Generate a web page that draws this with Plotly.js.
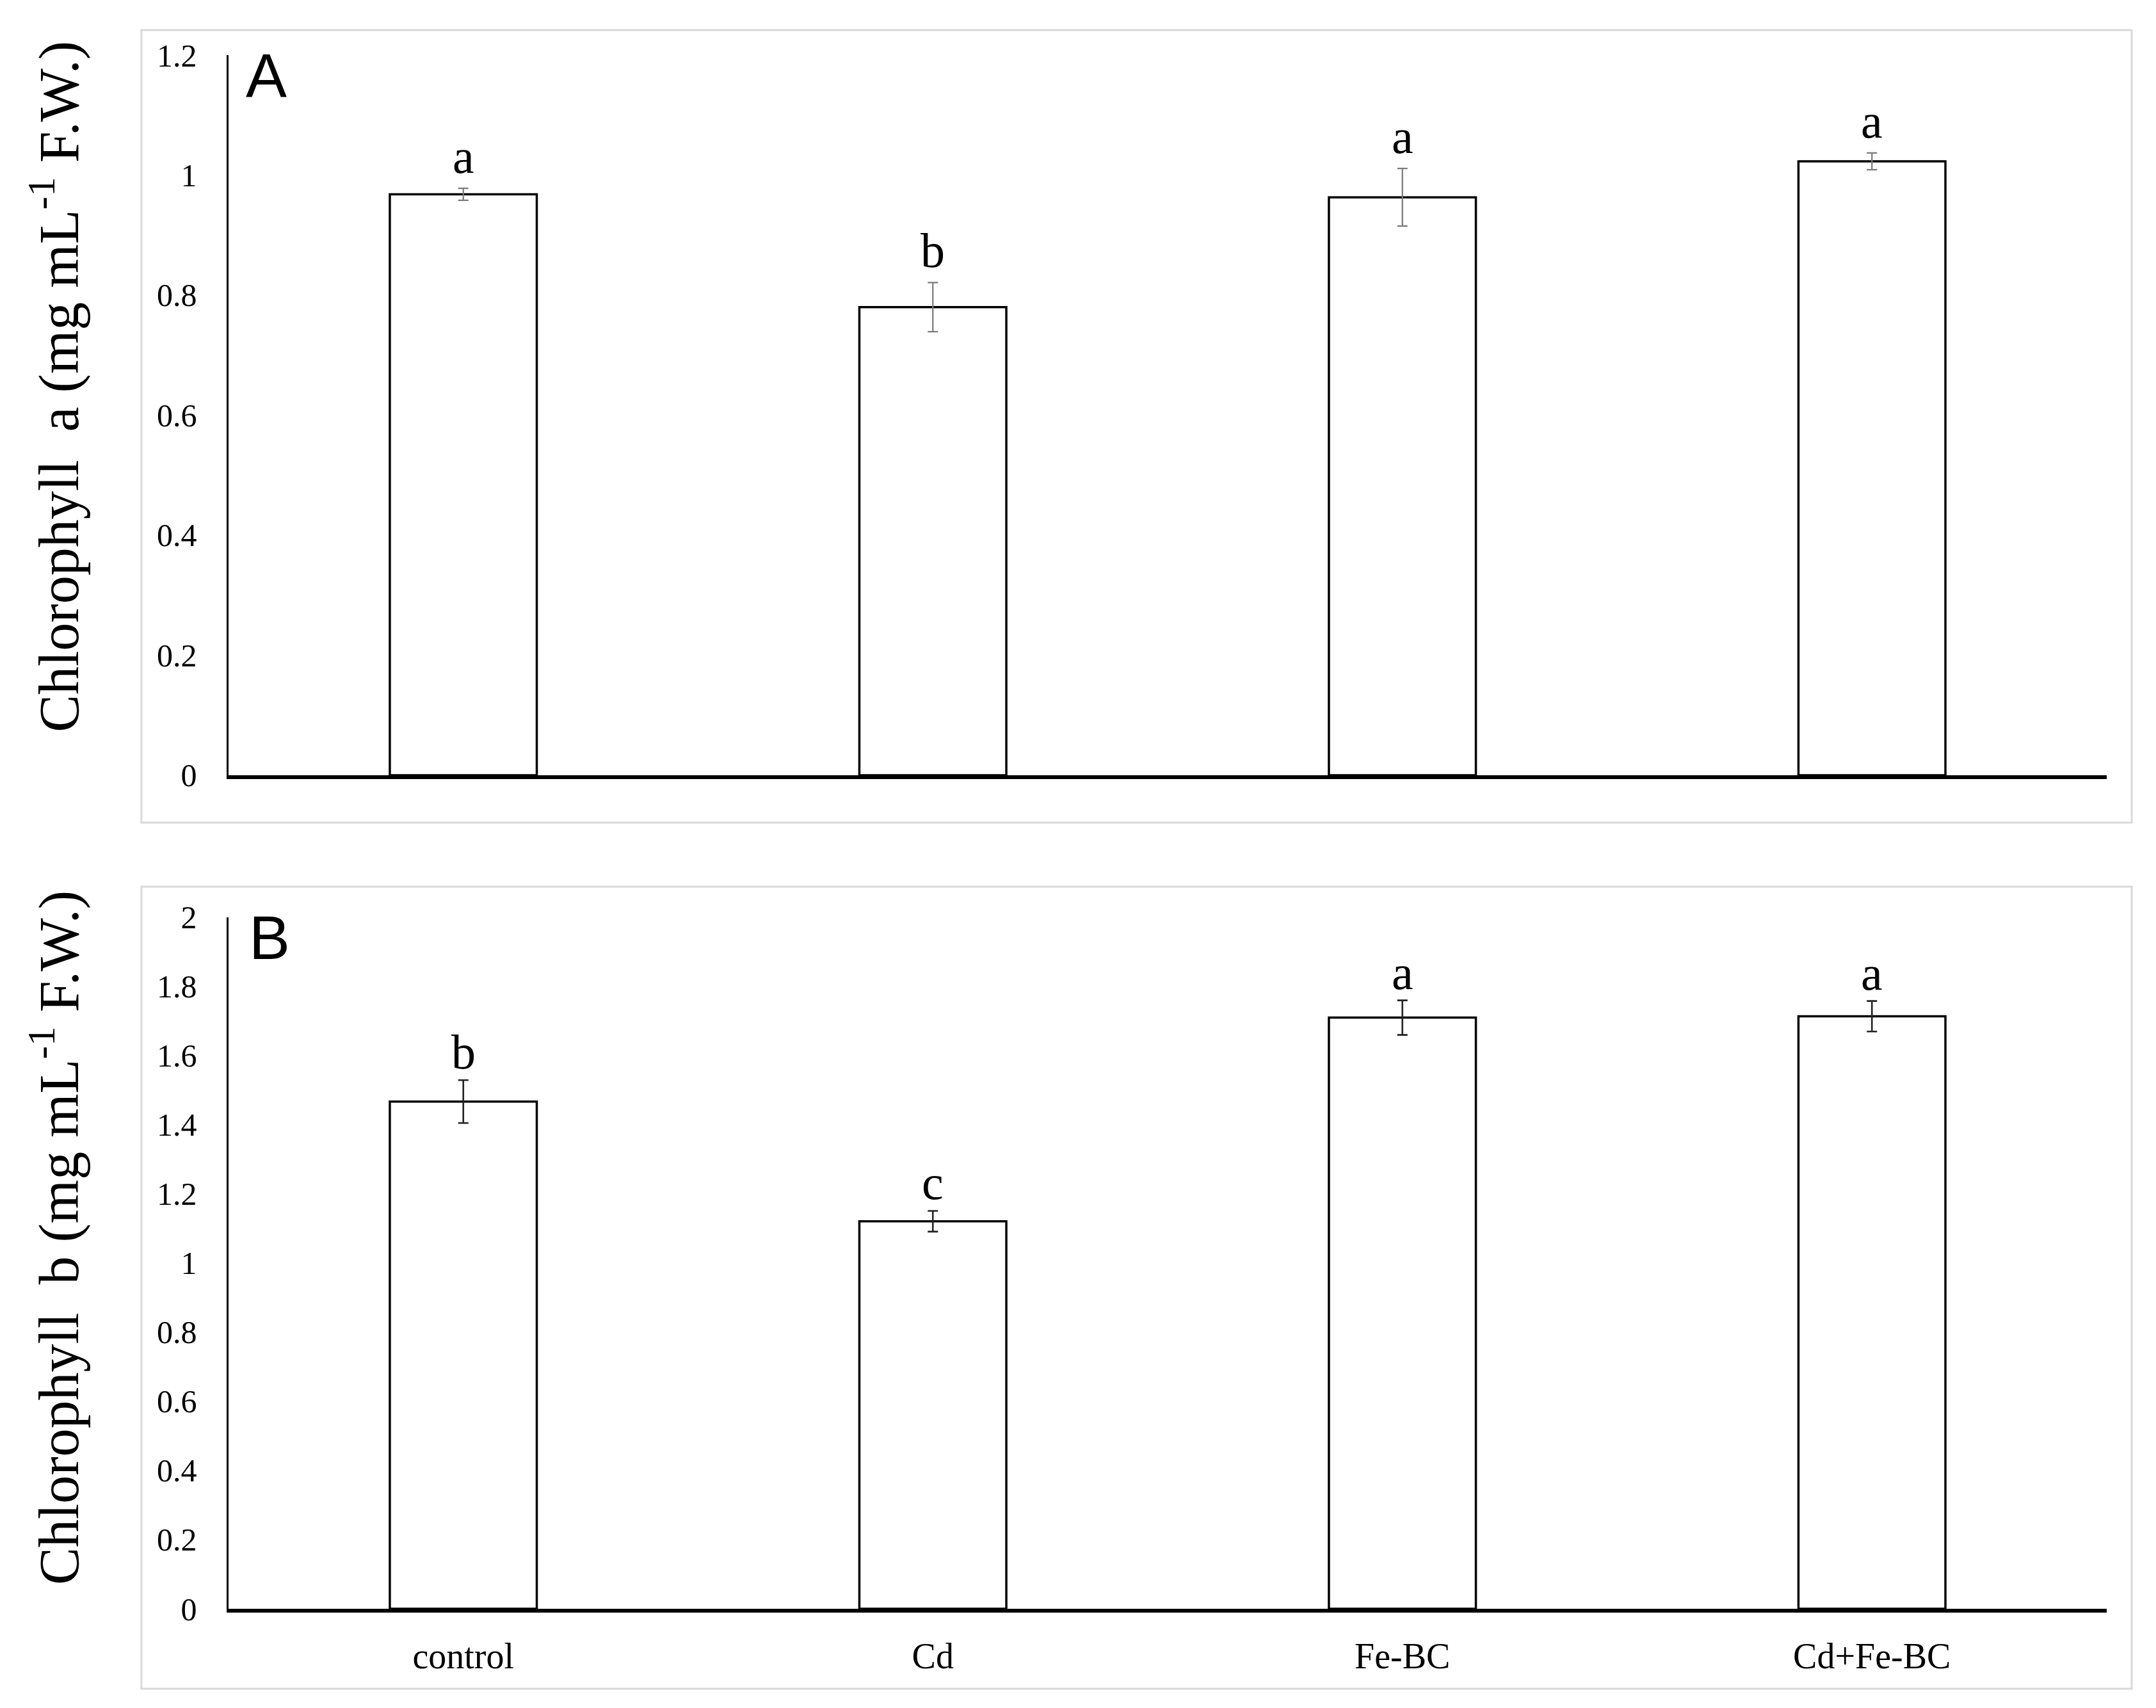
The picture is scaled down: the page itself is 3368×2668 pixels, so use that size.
<!DOCTYPE html>
<html>
<head>
<meta charset="utf-8">
<script src="https://cdn.plot.ly/plotly-3.0.1.min.js"></script>
<style>html,body{margin:0;padding:0;background:#fff;}</style>
</head>
<body>
<div id="chart" style="width:3368px;height:2668px;"></div>
<script>
// ---- data ----
const treatments = ["control", "Cd", "Fe-BC", "Cd+Fe-BC"];
const chlA = [0.968, 0.780, 0.963, 1.023];
const chlAErr = [0.010, 0.041, 0.048, 0.014];
const chlALetters = ["a", "b", "a", "a"];
const chlB = [1.467, 1.121, 1.710, 1.714];
const chlBErr = [0.062, 0.030, 0.050, 0.044];
const chlBLetters = ["b", "c", "a", "a"];
const panelLabels = ["A", "B"];
const yTitleA = "Chlorophyll  a (mg mL<sup>-1</sup> F.W.)";
const yTitleB = "Chlorophyll  b (mg mL<sup>-1</sup> F.W.)";

const serif = "Liberation Serif, Times New Roman, serif";

const traceA = {
  type: "bar", x: treatments, y: chlA, xaxis: "x", yaxis: "y",
  marker: {color: "#ffffff", line: {color: "#000000", width: 3.5}},
  error_y: {type: "data", array: chlAErr, visible: true, color: "#7a7a7a", thickness: 2.2, width: 8},
  showlegend: false, hoverinfo: "x+y"
};
const traceB = {
  type: "bar", x: treatments, y: chlB, xaxis: "x2", yaxis: "y2",
  marker: {color: "#ffffff", line: {color: "#000000", width: 3.5}},
  error_y: {type: "data", array: chlBErr, visible: true, color: "#222222", thickness: 2.6, width: 8},
  showlegend: false, hoverinfo: "x+y"
};

const annotations = [];
treatments.forEach((t, i) => {
  annotations.push({xref: "x", yref: "y", x: t, y: chlA[i] + chlAErr[i], text: chlALetters[i],
    showarrow: false, yanchor: "bottom", yshift: 6, font: {family: serif, size: 76, color: "#000"}});
  annotations.push({xref: "x2", yref: "y2", x: t, y: chlB[i] + chlBErr[i], text: chlBLetters[i],
    showarrow: false, yanchor: "bottom", yshift: 0, font: {family: serif, size: 76, color: "#000"}});
});
annotations.push({xref: "paper", yref: "paper", x: 0.0085, y: 1.0099, xanchor: "left", yanchor: "top",
  text: panelLabels[0], showarrow: false, font: {family: "Liberation Sans, Arial, sans-serif", size: 96, color: "#000"}});
annotations.push({xref: "paper", yref: "paper", x: 0.0102, y: 0.4549, xanchor: "left", yanchor: "top",
  text: panelLabels[1], showarrow: false, font: {family: "Liberation Sans, Arial, sans-serif", size: 96, color: "#000"}});
// y-axis titles, placed as rotated text beside each axis
annotations.push({xref: "paper", yref: "paper", x: -0.0924, y: 0.7866, xanchor: "center", yanchor: "middle",
  textangle: -90, text: yTitleA, showarrow: false, font: {family: serif, size: 88, color: "#000"}});
annotations.push({xref: "paper", yref: "paper", x: -0.0924, y: 0.2390, xanchor: "center", yanchor: "middle",
  textangle: -90, text: yTitleB, showarrow: false, font: {family: serif, size: 88, color: "#000"}});

const frameStyle = {color: "#d9d9d9", width: 3};
const shapes = [
  {type: "rect", xref: "paper", yref: "paper", x0: -0.0464, x1: 1.0133, y0: 0.506, y1: 1.0161, line: frameStyle, fillcolor: "rgba(0,0,0,0)", layer: "below"},
  {type: "rect", xref: "paper", yref: "paper", x0: -0.0464, x1: 1.0133, y0: -0.0515, y1: 0.4648, line: frameStyle, fillcolor: "rgba(0,0,0,0)", layer: "below"}
];

const yCommon = {
  showgrid: false, zeroline: false, showline: true, linecolor: "#000", linewidth: 3.5,
  ticks: "", dtick: 0.2, tick0: 0, ticklabelstandoff: 36,
  tickfont: {family: serif, size: 50, color: "#000"}
};

const layout = {
  width: 3368, height: 2668,
  margin: {l: 357, r: 77, t: 86, b: 155},
  paper_bgcolor: "#ffffff", plot_bgcolor: "#ffffff",
  font: {family: serif, color: "#000"},
  bargap: 0.687,
  showlegend: false,
  xaxis: {domain: [0, 1], anchor: "y", showline: true, linecolor: "#000", linewidth: 6,
    showticklabels: false, ticks: "", showgrid: false, zeroline: false},
  yaxis: Object.assign({}, yCommon, {domain: [0.5365, 1], anchor: "x", range: [0, 1.2]}),
  xaxis2: {domain: [0, 1], anchor: "y2", showline: true, linecolor: "#000", linewidth: 6,
    ticks: "", showgrid: false, zeroline: false, ticklabelstandoff: 20,
    tickfont: {family: serif, size: 56, color: "#000"}},
  yaxis2: Object.assign({}, yCommon, {domain: [0, 0.445], anchor: "x2", range: [0, 2]}),
  annotations: annotations,
  shapes: shapes
};

Plotly.newPlot("chart", [traceA, traceB], layout, {displayModeBar: false, staticPlot: true});
</script>
</body>
</html>
